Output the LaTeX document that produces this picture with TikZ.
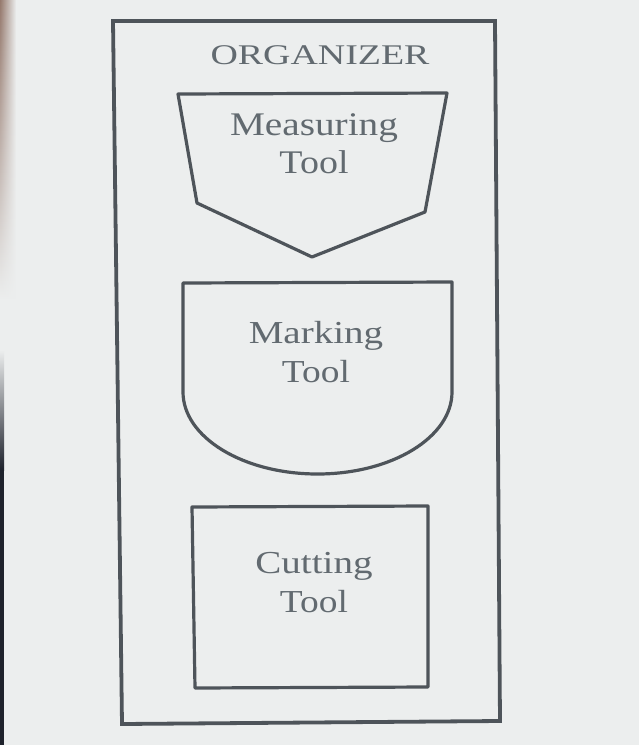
\documentclass[tikz,border=0pt]{standalone}
\usepackage{fontspec}
\usepackage{graphicx}
\usetikzlibrary{fadings}
\setmainfont{Liberation Serif}
\definecolor{paper}{RGB}{236,238,238}
\definecolor{ink}{RGB}{78,84,90}
\definecolor{txt}{RGB}{98,106,112}
\definecolor{warm}{RGB}{150,122,110}
\definecolor{dark}{RGB}{30,34,44}
\tikzset{
  frame/.style={draw=ink, line width=3.8pt, line join=miter},
  shapeline/.style={draw=ink, line width=3.2pt, line join=round},
  lbl/.style={text=txt, inner sep=0pt, anchor=base, align=center},
}
\newcommand{\xs}[2]{\scalebox{#1}[1]{#2}}
\begin{document}
\begin{tikzpicture}[x=1pt,y=-1pt]
\useasboundingbox (0,0) rectangle (639,745);
\fill[paper] (0,0) rectangle (639,745);
% photo edge on the left
\shade[top color=warm, bottom color=paper, path fading=east] (0,0) rectangle (16,300);
\shade[top color=paper, bottom color=dark] (0,350) rectangle (4,470);
\fill[dark] (0,470) rectangle (4,745);
% outer organizer frame
\draw[frame] (113,21) -- (495,21) -- (500,721) -- (122,724) -- cycle;
\node[lbl, font=\fontsize{28.5}{34}\selectfont] (org) at (320,64) {\xs{1.33}{ORGANIZER}};
% measuring tool pentagon
\draw[shapeline] (178,94) -- (447,93) -- (425,212) -- (312,257) -- (197,203) -- cycle;
\node[lbl, font=\fontsize{33}{38}\selectfont] (meas) at (314,135)
  {\begin{tabular}[t]{@{}c@{}}\xs{1.19}{Measuring}\\\xs{1.15}{Tool}\end{tabular}};
% marking tool
\draw[shapeline] (183,392) -- (183,283) -- (452,282) -- (452,392)
  arc[start angle=0, end angle=180, x radius=134.5, y radius=82] -- cycle;
\node[lbl, font=\fontsize{32}{39}\selectfont] (mark) at (316,343)
  {\begin{tabular}[t]{@{}c@{}}\xs{1.22}{Marking}\\\xs{1.17}{Tool}\end{tabular}};
% cutting tool
\draw[shapeline] (192,507) -- (428,506) -- (428,687) -- (195,688) -- cycle;
\node[lbl, font=\fontsize{32}{39}\selectfont] (cut) at (314,573)
  {\begin{tabular}[t]{@{}c@{}}\xs{1.22}{Cutting}\\\xs{1.17}{Tool}\end{tabular}};
\end{tikzpicture}
\end{document}
